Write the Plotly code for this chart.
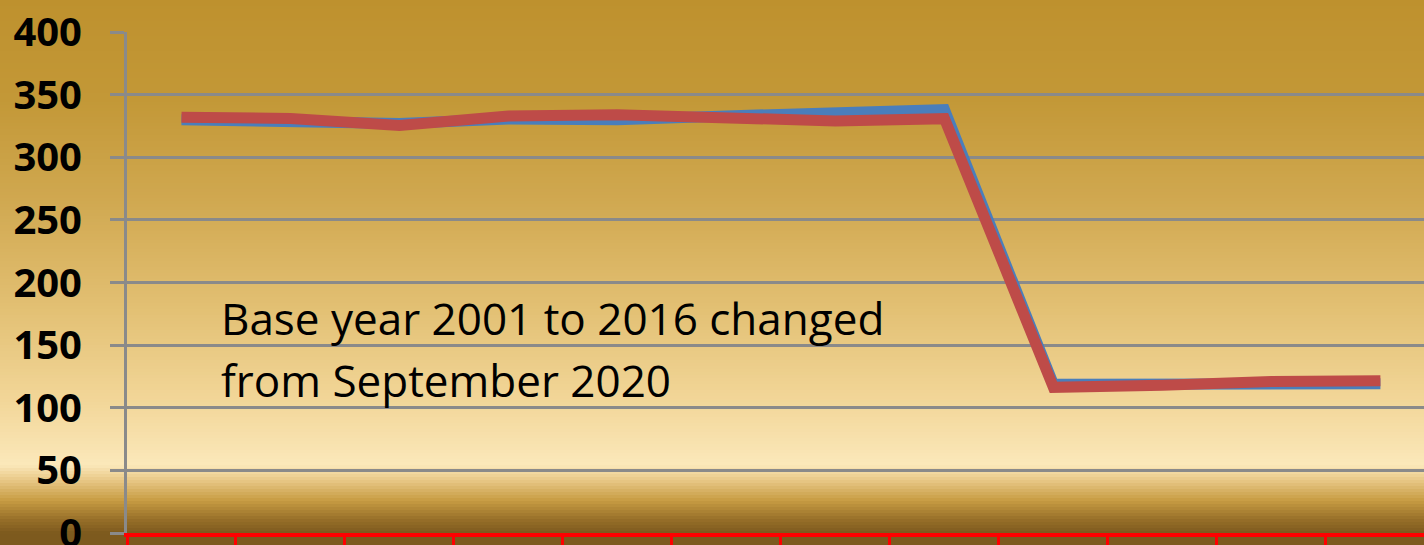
import plotly.graph_objects as go

months = ["Jan", "Feb", "Mar", "Apr", "May", "Jun", "Jul", "Aug", "Sep", "Oct", "Nov", "Dec"]
blue_vals = [330, 329.5, 327, 330.5, 330, 333, 336.5, 338, 118.7, 119.5, 120, 119.2]
red_vals = [332, 331, 325.3, 333, 334, 332.5, 329, 330.8, 116.3, 118, 121, 121.6]

note_line1 = "Base year 2001 to 2016 changed"
note_line2 = "from September 2020"
y_ticks = [0, 50, 100, 150, 200, 250, 300, 350, 400]

W, H = 1424, 545
ML, MR, MT, MB = 127, 0, 32, 12
plot_h = H - MT - MB
plot_w = W - ML - MR

# background gradient stops (pixel y from top -> rgb)
stops = [
    (0, (190, 145, 46)),
    (100, (195, 152, 55)),
    (200, (208, 168, 80)),
    (300, (225, 190, 112)),
    (400, (242, 214, 152)),
    (465, (251, 232, 186)),
    (480, (232, 200, 135)),
    (500, (200, 157, 68)),
    (520, (150, 110, 40)),
    (533, (125, 90, 30)),
    (545, (125, 90, 30)),
]


def color_at(p):
    for (p0, c0), (p1, c1) in zip(stops[:-1], stops[1:]):
        if p0 <= p <= p1:
            t = (p - p0) / (p1 - p0) if p1 > p0 else 0
            return "rgb(%d,%d,%d)" % tuple(round(a + (b - a) * t) for a, b in zip(c0, c1))
    return "rgb(125,90,30)"


def py(p):
    return (H - MB - p) / plot_h


shapes = []
step = 3
for p in range(0, H, step):
    shapes.append(dict(
        type="rect", xref="paper", yref="paper",
        x0=-ML / plot_w - 0.01, x1=1.01, y0=py(p + step + 0.5), y1=py(p),
        fillcolor=color_at(p + step / 2), line=dict(width=0), layer="below",
    ))

fig = go.Figure()
fig.add_trace(go.Scatter(x=months, y=blue_vals, mode="lines",
                         line=dict(color="#4A7EBB", width=11), showlegend=False))
fig.add_trace(go.Scatter(x=months, y=red_vals, mode="lines",
                         line=dict(color="#BE4B48", width=11), showlegend=False))

fig.update_layout(
    width=W, height=H,
    margin=dict(l=ML, r=MR, t=MT, b=MB, pad=0, autoexpand=False),
    paper_bgcolor="rgb(190,145,46)",
    plot_bgcolor="rgba(0,0,0,0)",
    shapes=shapes,
    showlegend=False,
    xaxis=dict(
        type="category", range=[-0.5, 11.4], tickson="boundaries",
        ticks="outside", ticklen=12, tickwidth=3, tickcolor="#FF0000",
        showline=True, linecolor="#FF0000", linewidth=4,
        showgrid=False, showticklabels=False, zeroline=False, automargin=False,
    ),
    yaxis=dict(
        range=[0, 400], tickvals=y_ticks, ticktext=[str(v) for v in y_ticks],
        ticks="outside", ticklen=14, tickwidth=3, tickcolor="#8A8A8A",
        showline=True, linecolor="#8A8A8A", linewidth=3,
        gridcolor="#8A8A8A", gridwidth=3, zeroline=False, automargin=False,
        tickfont=dict(family="Open Sans", size=40, color="black", weight="bold"),
        ticklabelstandoff=20, ticklabeloverflow="allow",
    ),
    annotations=[
        dict(text=note_line1, xref="paper", yref="y", x=(219 - ML) / plot_w, y=172,
             xanchor="left", yanchor="middle", showarrow=False,
             font=dict(family="Open Sans", size=44, color="black")),
        dict(text=note_line2, xref="paper", yref="y", x=(219 - ML) / plot_w, y=122,
             xanchor="left", yanchor="middle", showarrow=False,
             font=dict(family="Open Sans", size=44, color="black")),
    ],
)

fig.write_html("out.html", config={"displayModeBar": False},
               post_script="document.body.style.margin='0px';document.body.style.overflow='hidden';")
